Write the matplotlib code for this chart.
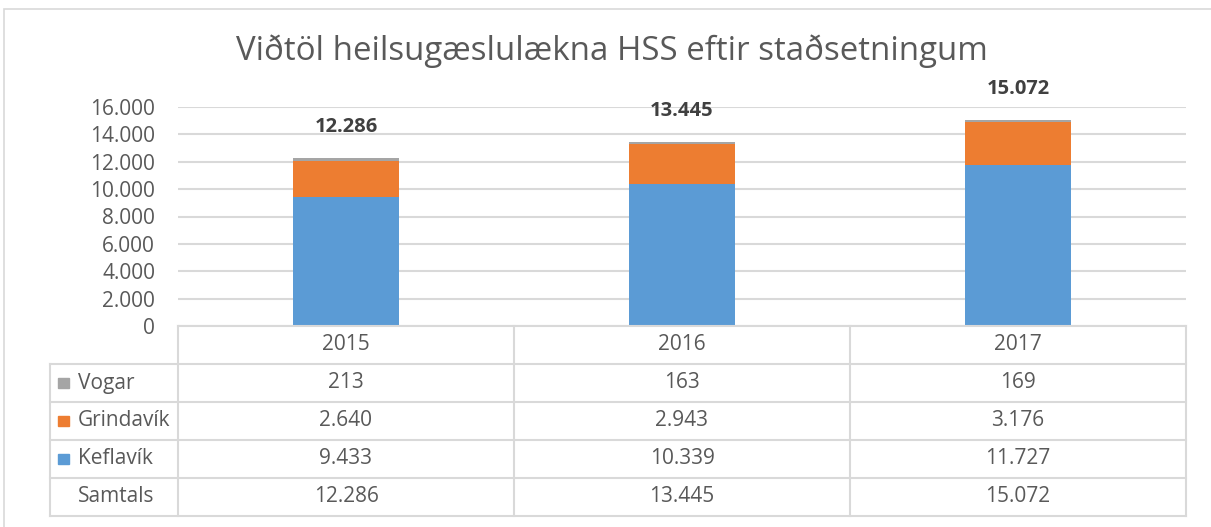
import matplotlib.pyplot as plt
from matplotlib.patches import Rectangle
from matplotlib.lines import Line2D

plt.rcParams['font.family'] = ['Open Sans', 'DejaVu Sans']

# data
years = ['2015', '2016', '2017']
keflavik = [9433, 10339, 11727]
grindavik = [2640, 2943, 3176]
vogar = [213, 163, 169]
series_names = ['Vogar', 'Grindavík', 'Keflavík']
series_colors = ['#A5A5A5', '#ED7D31', '#5B9BD5']

TEXT = '#595959'
GRID = '#D9D9D9'


def fmt(v):
    # Icelandic thousands separator
    return f'{v:,}'.replace(',', '.')


def main():
    W, H = 1211, 527
    fig = plt.figure(figsize=(W / 100, H / 100), dpi=100)

    # outer chart frame (cropped at right and bottom)
    fig.patches.append(Rectangle((4 / W, -0.1), 1.2, 1 - 9 / H + 0.1,
                                 transform=fig.transFigure, fill=False,
                                 edgecolor=GRID, linewidth=1.2))

    fig.text(612 / W, 1 - 51 / H,
             'Viðtöl heilsugæslulækna HSS eftir staðsetningum',
             ha='center', va='center', fontsize=23.8, color=TEXT)

    left, right = 178 / W, 1186 / W
    y0, ytop = 1 - 326 / H, 1 - 107 / H
    ax = fig.add_axes([left, y0, right - left, ytop - y0])

    totals = [k + g + v for k, g, v in zip(keflavik, grindavik, vogar)]
    x = list(range(len(years)))
    bw = 0.315
    ax.bar(x, keflavik, bw, color=series_colors[2], zorder=3)
    ax.bar(x, grindavik, bw, bottom=keflavik, color=series_colors[1], zorder=3)
    bottom2 = [k + g for k, g in zip(keflavik, grindavik)]
    ax.bar(x, vogar, bw, bottom=bottom2, color=series_colors[0], zorder=3)

    for xi, t in zip(x, totals):
        ax.annotate(fmt(t), (xi, t), xytext=(0, 22), textcoords='offset points',
                    ha='center', va='center', fontsize=14.5, fontweight='bold',
                    color='#404040')

    ax.set_xlim(-0.5, 2.5)
    ax.set_ylim(0, 16000)
    ax.set_yticks(range(0, 16001, 2000))
    ax.set_yticklabels([fmt(v) for v in range(0, 16001, 2000)])
    ax.tick_params(axis='y', length=0, pad=16.5, labelsize=15, labelcolor=TEXT)
    ax.set_xticks([])
    ax.grid(axis='y', color=GRID, linewidth=1.5, zorder=0)
    for s in ax.spines.values():
        s.set_visible(False)

    # data table below the plot
    tb = 1 - 516 / H
    tax = fig.add_axes([left, tb, right - left, y0 - tb], sharex=ax)
    tax.set_ylim(5, 0)
    tax.axis('off')
    label_x = -0.5 - 128 / 336

    rows = [vogar, grindavik, keflavik, totals]
    row_names = series_names + ['Samtals']
    lw = 1.5
    # horizontal lines
    tax.add_line(Line2D([-0.5, 2.5], [0, 0], color=GRID, lw=lw, clip_on=False))
    for r in range(1, 6):
        tax.add_line(Line2D([label_x, 2.5], [r, r], color=GRID, lw=lw,
                            clip_on=False))
    # vertical lines
    tax.add_line(Line2D([label_x, label_x], [1, 5], color=GRID, lw=lw,
                        clip_on=False))
    for c in range(4):
        tax.add_line(Line2D([c - 0.5, c - 0.5], [0, 5], color=GRID, lw=lw,
                            clip_on=False))

    for i, yr in enumerate(years):
        tax.text(i, 0.5, yr, ha='center', va='center', fontsize=15, color=TEXT)
    for r, (name, vals) in enumerate(zip(row_names, rows), start=1):
        tax.text(label_x + 28 / 336, r + 0.5, name, ha='left', va='center',
                 fontsize=15, color=TEXT)
        if r <= 3:
            tax.add_patch(Rectangle((label_x + 8 / 336, r + 0.5 - 0.14),
                                    11 / 336, 0.28,
                                    color=series_colors[r - 1], clip_on=False))
        for i, v in enumerate(vals):
            tax.text(i, r + 0.5, fmt(v), ha='center', va='center',
                     fontsize=15, color=TEXT)

    fig.savefig('out.png', dpi=100)


if __name__ == '__main__':
    main()
